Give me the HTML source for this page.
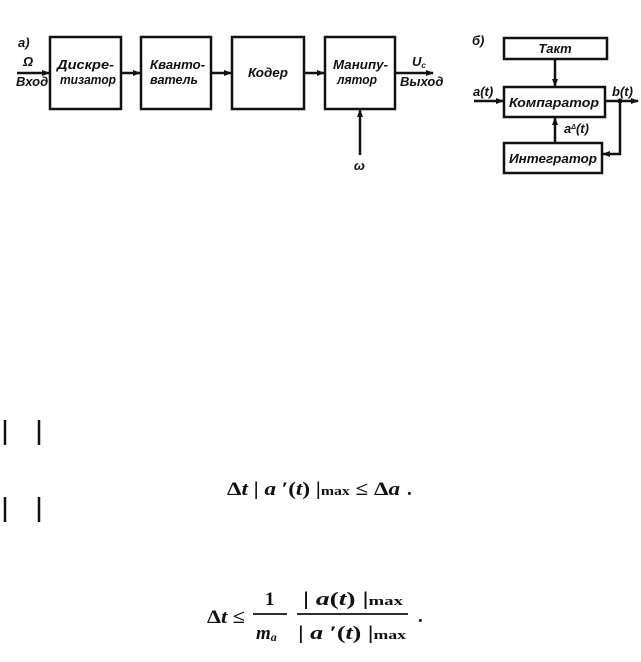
<!DOCTYPE html>
<html><head><meta charset="utf-8"><style>
body{margin:0;background:#fff;}
svg{display:block}
.l{font-family:"Liberation Sans",sans-serif;font-weight:bold;font-style:italic;font-size:13px;fill:#111}
.m{font-family:"Liberation Serif",serif;font-size:19px;font-weight:bold;fill:#111}
</style></head><body>
<svg width="641" height="662" viewBox="0 0 641 662" xmlns="http://www.w3.org/2000/svg">
<defs><marker id="a" markerWidth="8" markerHeight="6" refX="7" refY="3" orient="auto" markerUnits="userSpaceOnUse"><path d="M0,0L8,3L0,6z" fill="#111"/></marker></defs>
<g fill="none" stroke="#111" stroke-width="2.5">
<rect x="50" y="37" width="71" height="72"/>
<rect x="141" y="37" width="70" height="72"/>
<rect x="232" y="37" width="72" height="72"/>
<rect x="325" y="37" width="70" height="72"/>
<line x1="17" y1="73" x2="49" y2="73" marker-end="url(#a)"/>
<line x1="121" y1="73" x2="140" y2="73" marker-end="url(#a)"/>
<line x1="211" y1="73" x2="231" y2="73" marker-end="url(#a)"/>
<line x1="304" y1="73" x2="324" y2="73" marker-end="url(#a)"/>
<line x1="395" y1="73" x2="433" y2="73" marker-end="url(#a)"/>
<line x1="360" y1="155" x2="360" y2="110" marker-end="url(#a)"/>
<rect x="504" y="38" width="103" height="21"/>
<rect x="504" y="87" width="101" height="30"/>
<rect x="504" y="143" width="98" height="30"/>
<line x1="555" y1="59" x2="555" y2="86" marker-end="url(#a)"/>
<line x1="474" y1="101" x2="503" y2="101" marker-end="url(#a)"/>
<line x1="605" y1="101" x2="638" y2="101" marker-end="url(#a)"/>
<polyline points="620,101 620,154 603,154" marker-end="url(#a)"/>
<line x1="555" y1="142" x2="555" y2="118" marker-end="url(#a)"/>
<line x1="5" y1="420" x2="5" y2="445"/><line x1="39" y1="420" x2="39" y2="445"/>
<line x1="5" y1="497" x2="5" y2="522"/><line x1="39" y1="497" x2="39" y2="522"/>
</g>
<circle cx="620" cy="101" r="2.5" fill="#111"/>
<text class="l" x="18" y="47" font-size="14">а)</text>
<text class="l" x="23" y="66" font-size="14">Ω</text>
<text class="l" x="16" y="86" font-size="10">Вход</text>
<text class="l" x="57" y="69" textLength="57" lengthAdjust="spacingAndGlyphs">Дискре-</text>
<text class="l" x="60" y="84" textLength="56" lengthAdjust="spacingAndGlyphs">тизатор</text>
<text class="l" x="150" y="69" textLength="55" lengthAdjust="spacingAndGlyphs">Кванто-</text>
<text class="l" x="150" y="84" textLength="48" lengthAdjust="spacingAndGlyphs">ватель</text>
<text class="l" x="248" y="77" textLength="40" lengthAdjust="spacingAndGlyphs">Кодер</text>
<text class="l" x="333" y="69" textLength="55" lengthAdjust="spacingAndGlyphs">Манипу-</text>
<text class="l" x="337" y="84" textLength="40" lengthAdjust="spacingAndGlyphs">лятор</text>
<text class="l" x="412" y="66">U<tspan font-size="8" dy="2">c</tspan></text>
<text class="l" x="400" y="86" font-size="10">Выход</text>
<text class="l" x="354" y="170" font-size="14">ω</text>
<text class="l" x="472" y="45" font-size="14">б)</text>
<text class="l" x="555" y="53" text-anchor="middle" font-size="12">Такт</text>
<text class="l" x="473" y="96" font-size="12">a(t)</text>
<text class="l" x="509" y="107" font-size="12" textLength="90" lengthAdjust="spacingAndGlyphs">Компаратор</text>
<text class="l" x="612" y="96" font-size="12">b(t)</text>
<text class="l" x="564" y="133" font-size="12">a<tspan font-size="7" dy="-4">Δ</tspan><tspan dy="4">(t)</tspan></text>
<text class="l" x="509" y="163" font-size="12" textLength="88" lengthAdjust="spacingAndGlyphs">Интегратор</text>
<text class="m" x="227" y="495" textLength="173" lengthAdjust="spacingAndGlyphs">Δ<tspan font-style="italic">t</tspan> | <tspan font-style="italic">a</tspan> ′(<tspan font-style="italic">t</tspan>) |<tspan font-size="13">max</tspan> ≤ Δ<tspan font-style="italic">a</tspan></text>
<text class="m" x="407" y="495">.</text>
<text class="m" x="207" y="623" textLength="38" lengthAdjust="spacingAndGlyphs">Δ<tspan font-style="italic">t</tspan> ≤</text>
<line x1="253" y1="614" x2="287" y2="614" stroke="#111" stroke-width="1.8"/>
<text class="m" x="265" y="605" font-size="21">1</text>
<text class="m" x="256" y="639" font-style="italic">m<tspan font-size="12" dy="2">a</tspan></text>
<line x1="297" y1="614" x2="408" y2="614" stroke="#111" stroke-width="1.8"/>
<text class="m" x="303" y="605" textLength="100" lengthAdjust="spacingAndGlyphs">| <tspan font-style="italic">a</tspan>(<tspan font-style="italic">t</tspan>) |<tspan font-size="13">max</tspan></text>
<text class="m" x="298" y="639" textLength="108" lengthAdjust="spacingAndGlyphs">| <tspan font-style="italic">a</tspan> ′(<tspan font-style="italic">t</tspan>) |<tspan font-size="13">max</tspan></text>
<text class="m" x="418" y="622">.</text>
</svg>
</body></html>
